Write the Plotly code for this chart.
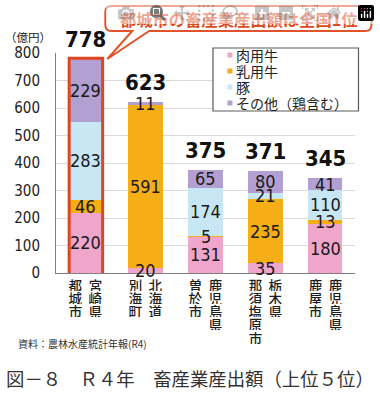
import plotly.graph_objects as go

# ---------------- data ----------------
categories = ["都城市 宮崎県", "別海町 北海道", "曽於市 鹿児島県", "那須塩原市 栃木県", "鹿屋市 鹿児島県"]
cities = ["都城市", "別海町", "曽於市", "那須塩原市", "鹿屋市"]
prefs = ["宮崎県", "北海道", "鹿児島県", "栃木県", "鹿児島県"]
series_names = ["肉用牛", "乳用牛", "豚", "その他（鶏含む）"]
beef = [220, 20, 131, 35, 180]
dairy = [46, 591, 5, 235, 13]
pig = [283, 0, 174, 21, 110]
other = [229, 11, 65, 80, 41]
totals = [778, 623, 375, 371, 345]
y_ticks = [0, 100, 200, 300, 400, 500, 600, 700, 800]
unit_label = "（億円）"
callout_text = "都城市の畜産業産出額は全国1位"
source_text = "資料：農林水産統計年報(R4)"
title_text = "図－８　Ｒ４年　畜産業産出額（上位５位）"

series_values = [beef, dairy, pig, other]
colors = ["#EFA6CA", "#F6AE17", "#C8E7F4", "#B3A0D3"]

# ---------------- layout geometry ----------------
W, H = 380, 394
ML, MR, MT, MB = 55.5, 24.5, 53, 121
PW, PH = W - ML - MR, H - MT - MB


def px(x):
    return (x - ML) / PW


def py(y):
    return (H - MB - y) / PH


JP = "Noto Sans CJK JP"
NUM = "Liberation Sans Narrow, DejaVu Sans Condensed, Arial"

fig = go.Figure()
for name, vals, col in zip(series_names, series_values, colors):
    fig.add_trace(go.Bar(
        x=categories, y=vals, name=name, marker_color=col,
        marker_line_width=0, width=0.58, showlegend=False,
    ))

annotations = []
# segment labels
for i, cat in enumerate(categories):
    base = 0
    for vals in series_values:
        v = vals[i]
        if v > 0:
            annotations.append(dict(
                x=cat, y=base + v / 2, xref="x", yref="y", text=str(v),
                showarrow=False, font=dict(family=NUM, size=18, color="#1a1a1a"),
                yanchor="middle", xanchor="center",
            ))
        base += v
    # totals
    annotations.append(dict(
        x=cat, y=totals[i], xref="x", yref="y", text=str(totals[i]),
        showarrow=False, font=dict(family=NUM, size=22, color="#111111", weight=700),
        yanchor="bottom", xanchor="center", yshift=5,
    ))

# vertical category labels (two columns)
char_step = 13.3
first_y = 284
for i, cat in enumerate(categories):
    for col_text, dx in ((cities[i], -10), (prefs[i], 10)):
        for k, ch in enumerate(col_text):
            annotations.append(dict(
                x=cat, y=py(first_y + k * char_step), xref="x", yref="paper",
                text=ch, showarrow=False, xshift=dx, yanchor="middle", xanchor="center",
                height=13, width=15,
                font=dict(family=JP, size=13.5, color="#1e1e1e", weight=500),
            ))

# unit label
annotations.append(dict(x=px(27), y=py(37), xref="paper", yref="paper", text=unit_label,
                        showarrow=False, xanchor="center", yanchor="middle",
                        font=dict(family=JP, size=11.5, color="#222222")))
# callout text
annotations.append(dict(x=px(239), y=py(19), xref="paper", yref="paper",
                        text=callout_text, showarrow=False,
                        xanchor="center", yanchor="middle",
                        font=dict(family=JP, size=16.3, color="#DC4A22", weight=700,
                                  shadow="none")))
# source
annotations.append(dict(x=px(15), y=py(343), xref="paper", yref="paper", text=source_text,
                        showarrow=False, xanchor="left", yanchor="middle",
                        font=dict(family=JP, size=10, color="#333333")))
# title
annotations.append(dict(x=px(190), y=py(378), xref="paper", yref="paper", text=title_text,
                        showarrow=False, xanchor="center", yanchor="middle",
                        font=dict(family=JP, size=18.4, color="#333333")))

# legend (manual)
shapes = []
shapes.append(dict(type="rect", xref="paper", yref="paper",
                   x0=px(213), x1=px(359), y0=py(48), y1=py(111),
                   line=dict(color="#5a5a5a", width=1.2), fillcolor="white", layer="above"))
for k, (name, col) in enumerate(zip(series_names, colors)):
    cy = 55 + 16 * k
    shapes.append(dict(type="rect", xref="paper", yref="paper",
                       x0=px(227.5), x1=px(232.5), y0=py(cy - 2.5), y1=py(cy + 2.5),
                       line=dict(width=0), fillcolor=col, layer="above"))
    annotations.append(dict(x=px(234), y=py(cy), xref="paper", yref="paper", text=name,
                            showarrow=False, xanchor="left", yanchor="middle",
                            font=dict(family=JP, size=14, color="#222222")))

# red border around first bar
shapes.append(dict(type="rect", xref="x", yref="y", x0=-0.28, x1=0.28,
                   y0=-6, y1=totals[0] + 3,
                   line=dict(color="#E0461E", width=3), layer="above"))

# callout bubble
def P(x, y):
    return "%.5f,%.5f" % (px(x), py(y))

path = ("M " + P(111, 6) + " L " + P(366, 6) + " Q " + P(372, 6) + " " + P(372, 12) +
        " L " + P(372, 25) + " Q " + P(372, 31) + " " + P(366, 31) +
        " L " + P(149, 31) + " L " + P(107, 59) + " L " + P(132, 31) +
        " L " + P(111, 31) + " Q " + P(105, 31) + " " + P(105, 25) +
        " L " + P(105, 12) + " Q " + P(105, 6) + " " + P(111, 6) + " Z")
shapes.append(dict(type="path", xref="paper", yref="paper", path=path,
                   line=dict(color="#E0532B", width=2), fillcolor="rgba(255,255,255,0)",
                   layer="above"))

fig.update_layout(
    width=W, height=H, autosize=False,
    margin=dict(l=ML, r=MR, t=MT, b=MB, pad=0),
    paper_bgcolor="white", plot_bgcolor="white",
    barmode="stack", bargap=0.42,
    showlegend=False,
    annotations=annotations, shapes=shapes,
    xaxis=dict(showline=True, linecolor="#7f7f7f", linewidth=1, showticklabels=False,
               ticks="", showgrid=False, range=[-0.5, 4.5]),
    yaxis=dict(range=[0, 800], tickvals=y_ticks, showgrid=True, gridcolor="#DADADA",
               gridwidth=1, zeroline=False, showline=True, linecolor="#7f7f7f", linewidth=1,
               ticks="", ticklabelstandoff=12,
               tickfont=dict(family=NUM, size=15, color="#222222")),
)

fig.write_html("out.html",
               post_script="document.body.style.margin='0px';document.body.style.overflow='hidden';")
